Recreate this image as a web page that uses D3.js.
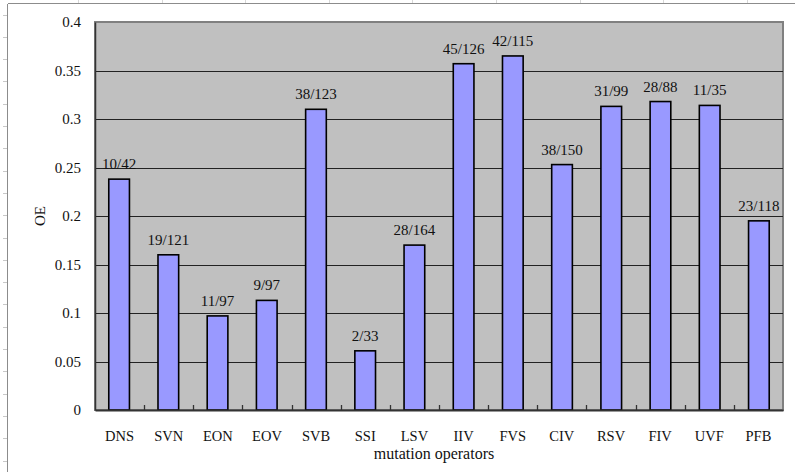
<!DOCTYPE html>
<html>
<head>
<meta charset="utf-8">
<script src="https://d3js.org/d3.v7.min.js"></script>
<style>
  body { margin: 0; background: #fff; }
  text { font-family: "Liberation Serif", "Times New Roman", serif; fill: #111; }
</style>
</head>
<body>
<div id="chart"></div>
<script>
// mutation operators and their OE ratios (killed / total shown as labels)
var operators = ["DNS", "SVN", "EON", "EOV", "SVB", "SSI", "LSV", "IIV", "FVS", "CIV", "RSV", "FIV", "UVF", "PFB"];
var oeValues  = [0.238, 0.160, 0.097, 0.113, 0.310, 0.061, 0.170, 0.357, 0.365, 0.253, 0.313, 0.318, 0.314, 0.195];
var ratioLabels = ["10/42", "19/121", "11/97", "9/97", "38/123", "2/33", "28/164", "45/126", "42/115", "38/150", "31/99", "28/88", "11/35", "23/118"];
var yTicks = [0, 0.05, 0.1, 0.15, 0.2, 0.25, 0.3, 0.35, 0.4];

var W = 795, H = 472;
var margin = {top: 22, right: 12, bottom: 62, left: 95};
var width = W - margin.left - margin.right,
    height = H - margin.top - margin.bottom;

var svg = d3.select("#chart").append("svg")
    .attr("width", W).attr("height", H);

// faint spreadsheet frame behind the chart
var frame = svg.append("g").attr("stroke", "#8c8c8c").attr("shape-rendering", "crispEdges");
frame.append("line").attr("x1", 7.5).attr("x2", 7.5).attr("y1", 3.5).attr("y2", H).attr("stroke-width", 1.5);
frame.append("line").attr("x1", 7.5).attr("x2", W).attr("y1", 3.5).attr("y2", 3.5).attr("stroke-width", 1.5);
frame.selectAll(".rt").data(d3.range(14.5, H, 22.3)).enter().append("line")
    .attr("x1", 3).attr("x2", 7).attr("y1", d => Math.round(d) + .5).attr("y2", d => Math.round(d) + .5)
    .attr("stroke", "#c8c8c8");
frame.selectAll(".ct").data(d3.range(78, W, 83.6)).enter().append("line")
    .attr("y1", 0).attr("y2", 3).attr("x1", d => Math.round(d) + .5).attr("x2", d => Math.round(d) + .5)
    .attr("stroke", "#d8d8d8");

var g = svg.append("g").attr("transform", "translate(" + margin.left + "," + margin.top + ")");

var x = d3.scaleBand().domain(operators).range([0, width]).paddingInner(0.58).paddingOuter(0.28);
var band = d3.scaleBand().domain(operators).range([0, width]);
var y = d3.scaleLinear().domain([0, 0.4]).range([height, 0]);

// plot area
g.append("rect").attr("width", width).attr("height", height)
    .attr("fill", "#c0c0c0").attr("stroke", "#808080").attr("stroke-width", 2);

// gridlines
g.append("g").selectAll("line").data(yTicks.slice(1, -1)).enter().append("line")
    .attr("x1", 0).attr("x2", width)
    .attr("y1", d => Math.round(y(d)) + .5).attr("y2", d => Math.round(y(d)) + .5)
    .attr("stroke", "#222").attr("stroke-width", 1);

// bars
g.selectAll(".bar").data(operators).enter().append("rect")
    .attr("class", "bar")
    .attr("x", d => x(d))
    .attr("width", x.bandwidth())
    .attr("y", (d, i) => y(oeValues[i]))
    .attr("height", (d, i) => height - y(oeValues[i]))
    .attr("fill", "#9999ff").attr("stroke", "#000").attr("stroke-width", 1.6);

// value labels
g.selectAll(".lbl").data(operators).enter().append("text")
    .attr("x", d => x(d) + x.bandwidth() / 2)
    .attr("y", (d, i) => y(oeValues[i]) - 10)
    .attr("text-anchor", "middle")
    .attr("font-size", "15px")
    .text((d, i) => ratioLabels[i]);

// y axis
var yAxis = g.append("g")
    .call(d3.axisLeft(y).tickValues(yTicks).tickFormat(d => d3.format("")(+d.toFixed(2))).tickSize(0).tickPadding(14));
yAxis.select(".domain").attr("stroke", "#333").attr("stroke-width", 1.5);
yAxis.selectAll("text").attr("font-size", "15px").attr("font-family", "Liberation Serif");

// x axis, ticks between categories pointing inward
var xAxis = g.append("g").attr("transform", "translate(0," + height + ")")
    .call(d3.axisBottom(band).tickSize(0).tickPadding(21));
xAxis.select(".domain").attr("stroke", "#333").attr("stroke-width", 1.8);
xAxis.selectAll("text").attr("font-size", "14.5px").attr("font-family", "Liberation Serif");
xAxis.selectAll(".sep").data(operators.slice(1)).enter().append("line")
    .attr("x1", d => Math.round(band(d)) + .5).attr("x2", d => Math.round(band(d)) + .5)
    .attr("y1", 0).attr("y2", -5)
    .attr("stroke", "#333").attr("stroke-width", 1.3);

// axis titles
svg.append("text")
    .attr("transform", "translate(45," + (margin.top + y(0.2)) + ") rotate(-90)")
    .attr("text-anchor", "middle").attr("font-size", "15px")
    .text("OE");
svg.append("text")
    .attr("x", margin.left + width / 2 - 5).attr("y", 459)
    .attr("text-anchor", "middle").attr("font-size", "16px")
    .text("mutation operators");
</script>
</body>
</html>
